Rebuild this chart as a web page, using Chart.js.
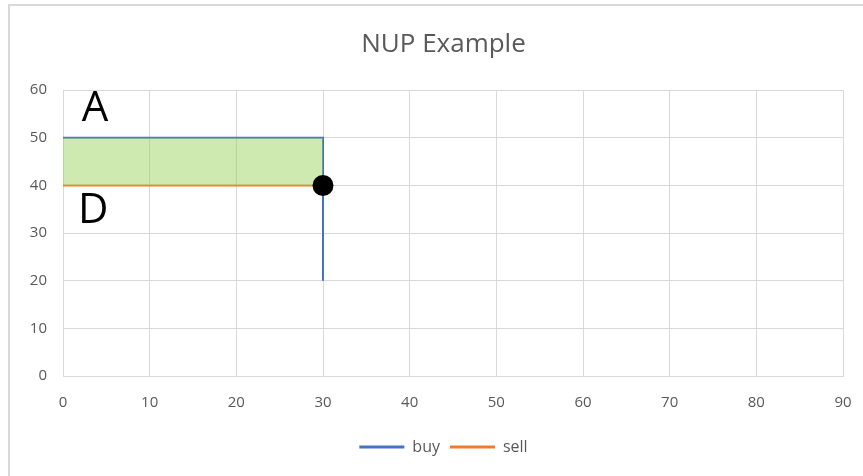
<!DOCTYPE html>
<html>
<head>
<meta charset="utf-8">
<script src="https://cdn.jsdelivr.net/npm/chart.js@4.4.1/dist/chart.umd.min.js"></script>
<style>
  html, body { margin: 0; padding: 0; background: #fff; }
  #wrap { position: relative; width: 863px; height: 476px; }
  #frame { position: absolute; left: 8px; top: 4px; right: -4px; bottom: -4px;
           border-top: 2px solid #D9D9D9; border-left: 2px solid #D9D9D9; pointer-events: none; }
  canvas { position: absolute; left: 0; top: 0; }
</style>
</head>
<body>
<div id="wrap">
  <canvas id="c" width="863" height="476"></canvas>
  <div id="frame"></div>
</div>
<script>
// Order quantity (x) and price (y) for each line
const buyX  = [0, 30, 30];
const buyY  = [50, 50, 20];
const sellX = [0, 30];
const sellY = [40, 40];

// Shaded band between the buy price and the sell price
const bandX = [0, 30];
const bandTop = [50, 50];

// Crossing point
const dotX = [30];
const dotY = [40];

// Text markers placed in data units
const markerText = ['A', 'D'];
const markerX = [3.7, 3.5];
const markerY = [56, 34.7];

const xTicks = [0, 10, 20, 30, 40, 50, 60, 70, 80, 90];
const yTicks = [0, 10, 20, 30, 40, 50, 60];

const pts = (xs, ys) => xs.map((x, i) => ({ x: x, y: ys[i] }));

const FONT = "'Open Sans', 'Liberation Sans', sans-serif";
const GREY = '#595959';

const markers = {
  id: 'markers',
  afterDatasetsDraw(chart) {
    const { ctx, scales } = chart;
    ctx.save();
    ctx.fillStyle = '#000';
    ctx.font = '42px ' + FONT;
    ctx.textAlign = 'center';
    ctx.textBaseline = 'middle';
    markerText.forEach((t, i) => {
      ctx.fillText(t, scales.x.getPixelForValue(markerX[i]), scales.y.getPixelForValue(markerY[i]));
    });
    ctx.restore();
  }
};

// Centre the title and legend over the plot frame rather than the whole canvas
const recentre = {
  id: 'recentre',
  afterLayout(chart) {
    const shift = 22;
    [chart.titleBlock, chart.legend].forEach(b => {
      if (b) { b.left += shift; b.right += shift; }
    });
  }
};

new Chart(document.getElementById('c'), {
  type: 'scatter',
  data: {
    datasets: [
      { label: 'buy', data: pts(buyX, buyY), showLine: true, borderColor: '#4472C4',
        backgroundColor: '#4472C4', borderWidth: 2, pointRadius: 0, fill: false, order: 2 },
      { label: 'sell', data: pts(sellX, sellY), showLine: true, borderColor: '#ED7D31',
        backgroundColor: '#ED7D31', borderWidth: 2, pointRadius: 0, fill: false, order: 3 },
      { label: 'band', data: pts(bandX, bandTop), showLine: true, borderWidth: 0,
        borderColor: 'rgba(0,0,0,0)', backgroundColor: 'rgba(146,208,80,0.45)',
        pointRadius: 0, fill: 1, order: 1 },
      { label: 'point', data: pts(dotX, dotY), showLine: false, pointRadius: 10.5,
        pointBackgroundColor: '#000', pointBorderColor: '#000', pointBorderWidth: 0, order: 0 }
    ]
  },
  options: {
    responsive: false,
    animation: false,
    events: [],
    layout: { padding: { left: 0, right: 20, top: 0, bottom: 11 } },
    plugins: {
      filler: { drawTime: 'beforeDatasetDraw' },
      tooltip: { enabled: false },
      title: {
        display: true, text: 'NUP Example', color: GREY,
        font: { family: FONT, size: 26, weight: 'normal' },
        padding: { top: 29, bottom: 30 }
      },
      legend: {
        position: 'bottom',
        labels: {
          color: GREY,
          font: { family: FONT, size: 16 },
          boxWidth: 45, boxHeight: 3, padding: 10,
          filter: (item) => item.datasetIndex < 2,
          generateLabels(chart) {
            return chart.data.datasets.map((d, i) => ({
              text: d.label, fillStyle: d.borderColor, strokeStyle: d.borderColor,
              lineWidth: 0, fontColor: GREY, hidden: false, datasetIndex: i
            }));
          }
        }
      }
    },
    scales: {
      x: {
        type: 'linear', min: 0, max: 90,
        afterBuildTicks: (s) => { s.ticks = xTicks.map(v => ({ value: v })); },
        afterFit: (s) => { s.height = 53; s.paddingLeft = 0; s.paddingRight = 0; },
        grid: { color: '#D9D9D9', lineWidth: 1, drawTicks: false },
        border: { color: '#D9D9D9', width: 1 },
        ticks: { color: GREY, font: { family: FONT, size: 15 }, padding: 18 }
      },
      y: {
        type: 'linear', min: 0, max: 60,
        afterBuildTicks: (s) => { s.ticks = yTicks.map(v => ({ value: v })); },
        afterFit: (s) => { s.width = 63; },
        grid: { color: '#D9D9D9', lineWidth: 1, drawTicks: false },
        border: { display: false },
        ticks: { color: GREY, font: { family: FONT, size: 15 }, padding: 16 }
      }
    }
  },
  plugins: [markers, recentre]
});
</script>
</body>
</html>
